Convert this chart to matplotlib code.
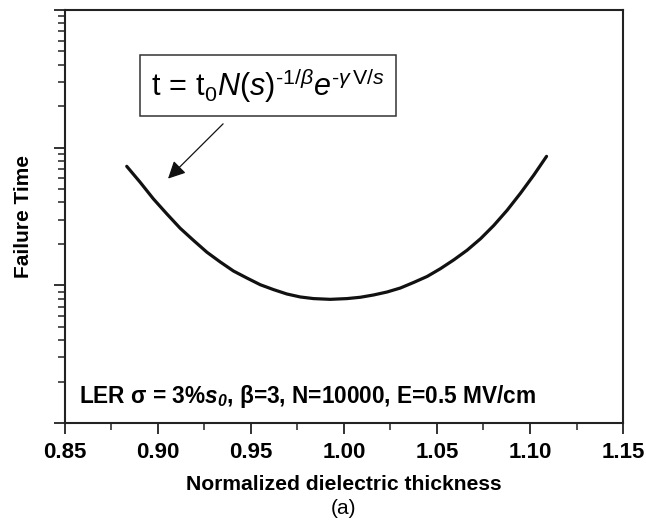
import numpy as np
import matplotlib.pyplot as plt
from matplotlib.ticker import LogLocator, NullFormatter, MultipleLocator

plt.rcParams['font.family'] = ['Liberation Sans', 'DejaVu Sans']
plt.rcParams['mathtext.fontset'] = 'custom'
plt.rcParams['mathtext.rm'] = 'Liberation Sans'
plt.rcParams['mathtext.it'] = 'Liberation Sans:italic'
plt.rcParams['mathtext.bf'] = 'Liberation Sans:bold'
plt.rcParams['mathtext.bfit'] = 'Liberation Sans:bold:italic'

# failure time vs normalized thickness
thickness = [0.8832, 0.8904, 0.8975, 0.9047, 0.9119, 0.9191, 0.9263, 0.9334,
             0.9406, 0.9478, 0.9550, 0.9621, 0.9693, 0.9765, 0.9836, 0.9926,
             1.0016, 1.0088, 1.0159, 1.0231, 1.0303, 1.0375, 1.0447, 1.0518,
             1.0590, 1.0662, 1.0734, 1.0805, 1.0877, 1.0949, 1.1021, 1.1089]
fail_time = [73.2, 56.1, 42.5, 33.1, 26.0, 21.2, 17.4, 14.8,
             12.7, 11.3, 10.1, 9.31, 8.65, 8.23, 8.01, 7.91,
             8.01, 8.19, 8.51, 8.94, 9.56, 10.5, 11.6, 13.2,
             15.3, 18.0, 21.8, 27.2, 35.1, 46.7, 63.4, 86.5]

x_ticks = [0.85, 0.90, 0.95, 1.00, 1.05, 1.10, 1.15]

fig = plt.figure(figsize=(6.46, 5.22), dpi=100)
ax = fig.add_axes([0.1006, 0.1897, 0.8638, 0.7911])

ax.plot(thickness, fail_time, color='#111111', lw=2.3, solid_capstyle='round',
        solid_joinstyle='round')

ax.set_yscale('log')
ax.set_ylim(1, 1000)
ax.set_xlim(0.85, 1.15)
ax.set_xticks(x_ticks)
ax.set_xticklabels(['%.2f' % v for v in x_ticks], fontweight='bold', fontsize=16)
ax.xaxis.set_minor_locator(MultipleLocator(0.025))
ax.yaxis.set_major_locator(LogLocator(base=10, numticks=10))
ax.yaxis.set_minor_locator(LogLocator(base=10, subs=np.arange(2, 10), numticks=10))
ax.yaxis.set_major_formatter(NullFormatter())
ax.yaxis.set_minor_formatter(NullFormatter())

ax.tick_params(which='major', direction='out', length=8, width=1.3, color='#222222', pad=6)
ax.tick_params(which='minor', direction='out', length=5, width=1.1, color='#222222')
for s in ax.spines.values():
    s.set_linewidth(1.5)
    s.set_color('#222222')

ax.set_xlabel('Normalized dielectric thickness', fontweight='bold', fontsize=15.2, labelpad=8)
ax.set_ylabel('Failure Time', fontweight='bold', fontsize=15, labelpad=9)

# formula box with arrow onto the curve
ax.annotate('', xy=(0.9054, 59.6), xytext=(0.935, 149),
            arrowprops=dict(arrowstyle='-|>', color='#111111', lw=0.9,
                            mutation_scale=26, shrinkA=0, shrinkB=0))
hy = '\u2010'
ax.text(0.364, 0.818,
        r'$\mathrm{t\,=\,t_0}\mathit{N}\mathrm{(}\mathit{s}\mathrm{)}^{\mathrm{' + hy + r'1/}\beta}'
        r'\mathit{e}^{\mathrm{' + hy + r'}\gamma\,\mathrm{V/}\mathit{s}}$',
        transform=ax.transAxes, ha='center', va='center', fontsize=22,
        bbox=dict(boxstyle='square,pad=0.36', fc='white', ec='#333333', lw=1.1))

ax.text(0.026, 0.065,
        r'LER $\mathbf{\sigma}$ = 3%$\mathbfit{s_0}$, $\mathbf{\beta}$=3, N=10000, E=0.5 MV/cm',
        transform=ax.transAxes, ha='left', va='center', fontsize=16.3, fontweight='bold')

fig.text(0.532, 0.025, '(a)', ha='center', va='center', fontsize=15)

fig.savefig('out.png', dpi=100)
